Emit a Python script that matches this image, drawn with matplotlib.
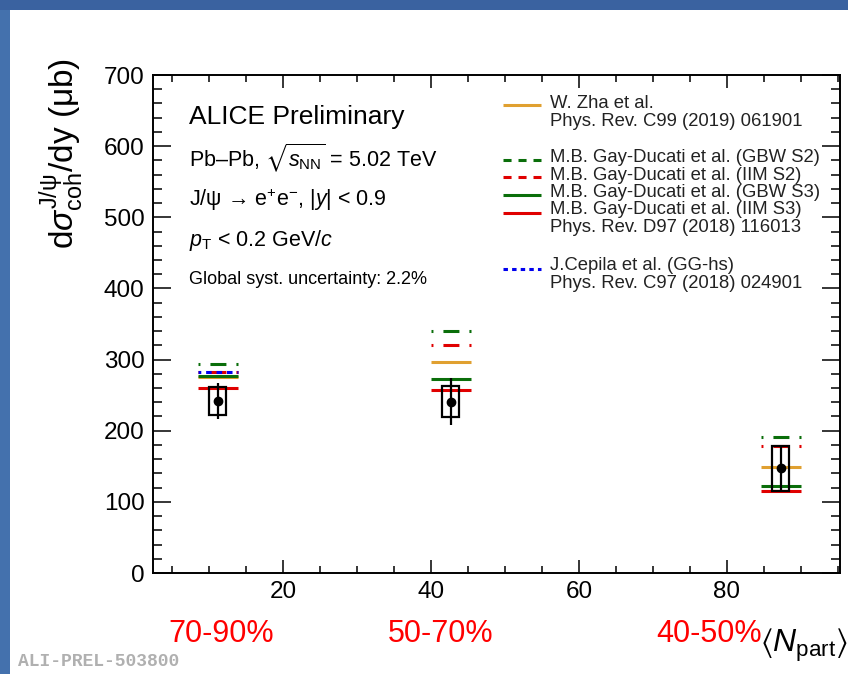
import matplotlib
matplotlib.use('Agg')
import matplotlib.pyplot as plt
from matplotlib.lines import Line2D
from matplotlib.patches import Rectangle
from matplotlib.ticker import MultipleLocator

# coherent J/psi cross section vs <Npart>
npart = [11.2, 42.7, 87.3]
sigma = [242, 241, 147]
stat_err = [25, 33, 31]
syst_err = [20, 22, 32]
centrality = ['70-90%', '50-70%', '40-50%']

# model predictions per centrality class
zha = [276, 297, 149]
gbw_s2 = [294, 340, 191]
iim_s2 = [283, 320, 178]
gbw_s3 = [277, 273, 122]
iim_s3 = [260, 257, 115]
cepila_x = [11.2]
cepila = [283]

W, H = 848, 674
plt.rcParams['font.family'] = ['Liberation Sans', 'DejaVu Sans']
plt.rcParams['mathtext.fontset'] = 'custom'
plt.rcParams['mathtext.rm'] = 'Liberation Sans'
plt.rcParams['mathtext.it'] = 'Liberation Sans:italic'
plt.rcParams['mathtext.bf'] = 'Liberation Sans:bold'
plt.rcParams['mathtext.fallback'] = 'stixsans'
plt.rcParams['lines.scale_dashes'] = False

ORANGE = '#e0a030'
GREEN = '#0a6e0a'
RED = '#e00000'
BLUE = '#0000ee'

DASH_PLOT = (10.1, (11.5, 7.2))
DOT_PLOT = (2.0, (4.0, 3.5))
DASH_LEG = (0, (5.8, 5.0))
DOT_LEG = (0, (3.2, 3.0))


def fx(px):
    return px / W


def fy(py):
    return 1 - py / H


fig = plt.figure(figsize=(W / 100, H / 100), dpi=100)
fig.patch.set_facecolor('white')

# slide frame
fig.patches.append(Rectangle((0, 0), fx(10), 1, transform=fig.transFigure,
                             facecolor='#4471ad', edgecolor='none', zorder=0))
fig.patches.append(Rectangle((0, fy(10)), 1, 10 / H, transform=fig.transFigure,
                             facecolor='#3a62a0', edgecolor='none', zorder=0))

ax = fig.add_axes([fx(153), fy(573), fx(840) - fx(153), fy(75) - fy(573)])
ax.set_xlim(2.45, 95.3)
ax.set_ylim(0, 700)

hw = 2.7  # half width of model bars


def model(xs, ys, color, ls):
    for x, y in zip(xs, ys):
        ax.plot([x - hw, x + hw], [y, y], color=color, lw=2.2, linestyle=ls,
                solid_capstyle='butt', dash_capstyle='butt', zorder=2)


model(npart, iim_s2, RED, DASH_PLOT)
model(cepila_x, cepila, BLUE, DOT_PLOT)
model(npart, gbw_s2, GREEN, DASH_PLOT)
model(npart, zha, ORANGE, '-')
model(npart, gbw_s3, GREEN, '-')
model(npart, iim_s3, RED, '-')

# systematic boxes
bw = 1.15
for x, y, s in zip(npart, sigma, syst_err):
    ax.add_patch(Rectangle((x - bw, y - s), 2 * bw, 2 * s, facecolor='none',
                           edgecolor='black', lw=1.6, zorder=3))
ax.errorbar(npart, sigma, yerr=stat_err, fmt='o', color='black', ms=6,
            elinewidth=1.6, capsize=0, zorder=4)

ax.xaxis.set_major_locator(MultipleLocator(20))
ax.xaxis.set_minor_locator(MultipleLocator(5))
ax.yaxis.set_major_locator(MultipleLocator(100))
ax.yaxis.set_minor_locator(MultipleLocator(20))
ax.tick_params(which='both', direction='in', top=True, right=True, width=1.1,
               labelsize=17.5, colors='black')
ax.tick_params(axis='x', which='major', length=9.4, pad=6)
ax.tick_params(axis='x', which='minor', length=5)
ax.tick_params(axis='y', which='major', length=13, pad=6)
ax.tick_params(axis='y', which='minor', length=6.5)
for sp in ax.spines.values():
    sp.set_linewidth(1.4)

# axis titles
fig.text(fx(62), fy(58), r'd$\sigma^{\mathrm{J/ψ}}_{\mathrm{coh}}$/dy (μb)',
         rotation=90, ha='center', va='top', fontsize=24)
fig.text(fx(848), fy(652), r'$\langle N_{\mathrm{part}}\rangle$',
         ha='right', va='baseline', fontsize=23)

# centrality classes
for px, lab in zip([221, 441, 709], centrality):
    fig.text(fx(px), fy(634), lab, color='#ff0000', ha='center', va='center',
             fontsize=22)

# header
fig.text(fx(189), fy(117), 'ALICE Preliminary', fontsize=19, va='center')
fig.text(fx(189), fy(158), r'Pb–Pb, $\sqrt{s_{\mathrm{NN}}}$ = 5.02 TeV',
         fontsize=15.5, va='center')
fig.text(fx(189), fy(200), r'J/ψ → e$^{+}$e$^{-}$, |$y$| < 0.9',
         fontsize=15.5, va='center')
fig.text(fx(189), fy(240), r'$p_{\mathrm{T}}$ < 0.2 GeV/$c$', fontsize=15.5,
         va='center')
fig.text(fx(189), fy(279), 'Global syst. uncertainty: 2.2%', fontsize=13,
         va='center')

# legend
leg_entries = [
    (105, ORANGE, '-'),
    (160, GREEN, DASH_LEG),
    (177, RED, DASH_LEG),
    (195, GREEN, '-'),
    (213, RED, '-'),
    (269, BLUE, DOT_LEG),
]
for py, c, ls in leg_entries:
    fig.add_artist(Line2D([fx(503), fx(541)], [fy(py), fy(py)], color=c,
                          lw=2.2, linestyle=ls, transform=fig.transFigure,
                          solid_capstyle='butt', dash_capstyle='butt'))
leg_text = [
    (103, 'W. Zha et al.'),
    (121, 'Phys. Rev. C99 (2019) 061901'),
    (158, 'M.B. Gay-Ducati et al. (GBW S2)'),
    (175, 'M.B. Gay-Ducati et al. (IIM S2)'),
    (193, 'M.B. Gay-Ducati et al. (GBW S3)'),
    (210, 'M.B. Gay-Ducati et al. (IIM S3)'),
    (228, 'Phys. Rev. D97 (2018) 116013'),
    (266, 'J.Cepila et al. (GG-hs)'),
    (283, 'Phys. Rev. C97 (2018) 024901'),
]
for py, t in leg_text:
    fig.text(fx(550), fy(py), t, fontsize=13.3, va='center', color='#222222')

fig.text(fx(18), fy(662), 'ALI-PREL-503800', fontsize=13, va='center',
         family=['Liberation Mono', 'DejaVu Sans Mono'], weight='bold',
         color='#b0b0b0')

fig.savefig('out.png', dpi=100)
